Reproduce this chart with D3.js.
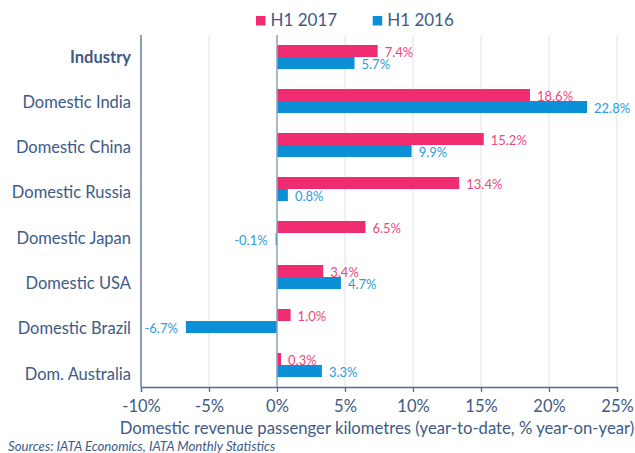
<!DOCTYPE html>
<html>
<head>
<meta charset="utf-8">
<script src="https://cdn.jsdelivr.net/npm/d3@7"></script>
<style>
  html, body { margin: 0; padding: 0; background: #fff; }
  svg { display: block; font-family: Lato, "Open Sans", sans-serif; }
</style>
</head>
<body>
<svg id="chart" width="635" height="453"></svg>
<script>
const categories = ["Industry", "Domestic India", "Domestic China", "Domestic Russia",
  "Domestic Japan", "Domestic USA", "Domestic Brazil", "Dom. Australia"];
const series_names = ["H1 2017", "H1 2016"];
const h1_2017 = [7.4, 18.6, 15.2, 13.4, 6.5, 3.4, 1.0, 0.3];
const h1_2016 = [5.7, 22.8, 9.9, 0.8, -0.1, 4.7, -6.7, 3.3];
const x_ticks = [-10, -5, 0, 5, 10, 15, 20, 25];

const BAR_COLORS = ["#ee2c6f", "#0b8fd7"];
const LABEL_COLORS = ["#f0467c", "#2a9ede"];
const TEXT_COLOR = "#3e5a87";

const svg = d3.select("#chart");

const x = d3.scaleLinear().domain([-10, 25]).range([141, 617]);
const y = d3.scaleBand().domain(categories).range([35, 387]);
const y_inner = d3.scaleBand().domain(series_names).range([10, 34]);
// category labels sit on a slightly wider spacing than the bars
const y_label = d3.scalePoint().domain(categories).range([56, 373]);

const rows = categories.map(function(c, i){
  return { name: c, values: [h1_2017[i], h1_2016[i]] };
});

// gridlines
svg.append("g")
  .selectAll("line")
  .data(x_ticks.filter(function(t){ return t !== 0 && t !== -10; }))
  .join("line")
    .attr("x1", function(d){ return x(d); }).attr("x2", function(d){ return x(d); })
    .attr("y1", y.range()[0]).attr("y2", y.range()[1])
    .attr("stroke", "#e2e2e2").attr("stroke-width", 1);

// bars
const groups = svg.append("g")
  .selectAll("g")
  .data(rows)
  .join("g")
    .attr("transform", function(d){ return "translate(0," + y(d.name) + ")"; });

function bar_data(d){
  return d.values.map(function(v, j){ return { s: series_names[j], v: v, j: j }; });
}

groups.selectAll("rect")
  .data(bar_data)
  .join("rect")
    .attr("x", function(d){ return x(Math.min(0, d.v)); })
    .attr("y", function(d){ return y_inner(d.s); })
    .attr("width", function(d){ return Math.max(1, Math.abs(x(d.v) - x(0))); })
    .attr("height", y_inner.bandwidth())
    .attr("fill", function(d){ return BAR_COLORS[d.j]; });

groups.selectAll("text")
  .data(bar_data)
  .join("text")
    .attr("x", function(d){ return d.v < 0 ? x(d.v) - 8 : x(d.v) + 7; })
    .attr("y", function(d){ return y_inner(d.s) + y_inner.bandwidth() / 2 + 1; })
    .attr("dominant-baseline", "central")
    .attr("text-anchor", function(d){ return d.v < 0 ? "end" : "start"; })
    .attr("font-size", 13)
    .attr("fill", function(d){ return LABEL_COLORS[d.j]; })
    .text(function(d){ return d.v.toFixed(1) + "%"; });

// zero line
svg.append("line")
  .attr("x1", x(0)).attr("x2", x(0))
  .attr("y1", y.range()[0]).attr("y2", y.range()[1])
  .attr("stroke", "#8da0bd").attr("stroke-width", 1.5);

// x axis
const x_axis = svg.append("g")
  .attr("transform", "translate(0," + y.range()[1] + ")")
  .call(d3.axisBottom(x).tickValues(x_ticks).tickSize(5).tickPadding(8)
    .tickFormat(function(d){ return d + "%"; }));
x_axis.select(".domain").attr("stroke", "#4f6a96").attr("stroke-width", 1.3);
x_axis.selectAll(".tick line").attr("stroke", "#4f6a96").attr("stroke-width", 1.3);
x_axis.selectAll(".tick text")
  .attr("font-family", "Lato, sans-serif")
  .attr("font-size", 16.5)
  .attr("fill", TEXT_COLOR);

// left axis line
svg.append("line")
  .attr("x1", x(-10)).attr("x2", x(-10))
  .attr("y1", y.range()[0]).attr("y2", y.range()[1])
  .attr("stroke", "#4f6a96").attr("stroke-width", 1.3);

// category labels
svg.append("g")
  .selectAll("text")
  .data(categories)
  .join("text")
    .attr("x", 131)
    .attr("y", function(d){ return y_label(d) + 0.5; })
    .attr("dominant-baseline", "central")
    .attr("text-anchor", "end")
    .attr("font-size", 16.5)
    .attr("font-weight", function(d, i){ return i === 0 ? "bold" : "normal"; })
    .attr("fill", TEXT_COLOR)
    .text(function(d){ return d; });

// axis title
svg.append("text")
  .attr("x", 377).attr("y", 434)
  .attr("text-anchor", "middle")
  .attr("font-size", 16.7)
  .attr("fill", TEXT_COLOR)
  .text("Domestic revenue passenger kilometres (year-to-date, % year-on-year)");

// source
svg.append("text")
  .attr("x", 8).attr("y", 451)
  .attr("font-size", 13.2)
  .attr("font-style", "italic")
  .attr("fill", TEXT_COLOR)
  .text("Sources: IATA Economics, IATA Monthly Statistics");

// legend
const legend_x = [256, 372.7];
const legend = svg.append("g")
  .selectAll("g")
  .data(series_names)
  .join("g")
    .attr("transform", function(d, i){ return "translate(" + [legend_x[i], 16] + ")"; });
legend.append("rect")
  .attr("width", 9.5).attr("height", 9.5)
  .attr("fill", function(d, i){ return BAR_COLORS[i]; });
legend.append("text")
  .attr("x", 14.5).attr("y", 10)
  .attr("font-size", 17)
  .attr("fill", TEXT_COLOR)
  .text(function(d){ return d; });
</script>
</body>
</html>
